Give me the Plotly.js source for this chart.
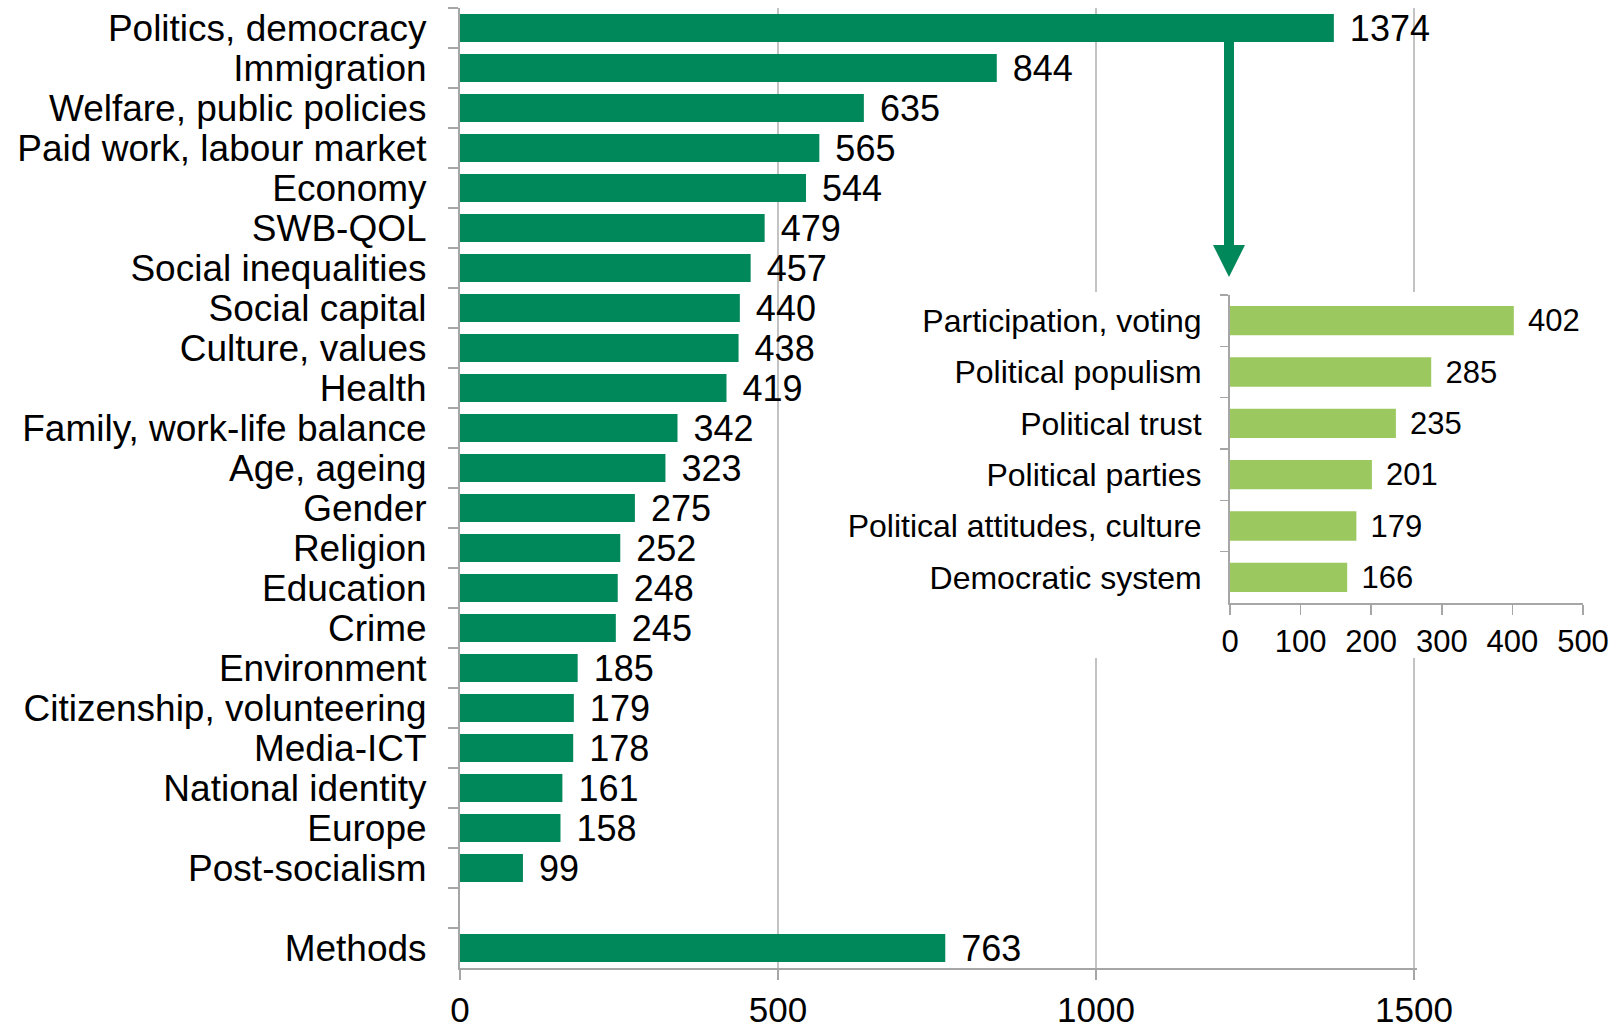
<!DOCTYPE html>
<html>
<head>
<meta charset="utf-8">
<script src="https://cdn.plot.ly/plotly-3.0.1.min.js"></script>
<style>html,body{margin:0;padding:0;background:#fff;}#chart{width:1619px;height:1028px;}</style>
</head>
<body>
<div id="chart"></div>
<script>
// Main chart data (top to bottom)
const mainCategories = [
  "Politics, democracy", "Immigration", "Welfare, public policies", "Paid work, labour market",
  "Economy", "SWB-QOL", "Social inequalities", "Social capital", "Culture, values", "Health",
  "Family, work-life balance", "Age, ageing", "Gender", "Religion", "Education", "Crime",
  "Environment", "Citizenship, volunteering", "Media-ICT", "National identity", "Europe",
  "Post-socialism", " ", "Methods"
];
const mainValues = [
  1374, 844, 635, 565, 544, 479, 457, 440, 438, 419,
  342, 323, 275, 252, 248, 245, 185, 179, 178, 161, 158,
  99, null, 763
];
const mainTicks = [0, 500, 1000, 1500];

// Inset data (breakdown of "Politics, democracy")
const insetCategories = [
  "Participation, voting", "Political populism", "Political trust",
  "Political parties", "Political attitudes, culture", "Democratic system"
];
const insetValues = [402, 285, 235, 201, 179, 166];
const insetTicks = [0, 100, 200, 300, 400, 500];

const W = 1619, H = 1028;
const px = v => v / W;
const py = v => 1 - v / H;

const FONT = "Liberation Sans, Arial, sans-serif";
const DARK = "#00875a";
const LIGHT = "#9cc95f";
const AXIS = "#a6a6a6";
const GRID = "#c3c3c3";
const GAP = "\u00a0\u200a";

const traces = [
  {
    type: "bar", orientation: "h",
    y: mainCategories, x: mainValues,
    marker: {color: DARK, line: {width: 0}},
    width: 0.7,
    text: mainValues.map(v => v == null ? "" : GAP + v),
    textposition: "outside", constraintext: "none", cliponaxis: false,
    textfont: {family: FONT, size: 36, color: "#000"},
    hoverinfo: "none", xaxis: "x", yaxis: "y"
  },
  {
    type: "bar", orientation: "h",
    y: insetCategories, x: insetValues,
    marker: {color: LIGHT, line: {width: 0}},
    width: 0.57,
    text: insetValues.map(v => GAP + v),
    textposition: "outside", constraintext: "none", cliponaxis: false,
    textfont: {family: FONT, size: 31, color: "#000"},
    hoverinfo: "none", xaxis: "x2", yaxis: "y2"
  }
];

const layout = {
  width: W, height: H,
  margin: {l: 0, r: 0, t: 0, b: 0},
  paper_bgcolor: "#fff", plot_bgcolor: "rgba(0,0,0,0)",
  showlegend: false,
  font: {family: FONT, color: "#000"},
  xaxis: {
    domain: [px(460), px(460 + 954 * 1504 / 1500)],
    range: [0, 1504], tickmode: "array", tickvals: mainTicks, ticktext: mainTicks.map(String),
    showgrid: true, gridcolor: GRID, gridwidth: 1.5,
    showline: true, linecolor: AXIS, linewidth: 2,
    ticks: "outside", ticklen: 10, tickcolor: AXIS, tickwidth: 1.5,
    tickfont: {family: FONT, size: 35, color: "#000"},
    ticklabelstandoff: 0,
    zeroline: false, automargin: false, fixedrange: true, anchor: "y"
  },
  yaxis: {
    domain: [py(968), py(8)],
    type: "category", categoryorder: "array", categoryarray: mainCategories,
    range: [mainCategories.length - 0.5, -0.5],
    tickmode: "linear", tick0: 0, dtick: 1,
    showline: true, linecolor: AXIS, linewidth: 2,
    ticks: "outside", tickson: "boundaries", ticklen: 10, tickcolor: AXIS, tickwidth: 1.5,
    tickfont: {family: FONT, size: 37, color: "#000"},
    ticklabelstandoff: 24,
    showgrid: false, zeroline: false, automargin: false, fixedrange: true, anchor: "x"
  },
  xaxis2: {
    domain: [px(1230), px(1583)],
    range: [0, 500], tickmode: "array", tickvals: insetTicks, ticktext: insetTicks.map(String),
    showgrid: false,
    showline: true, linecolor: AXIS, linewidth: 2,
    ticks: "outside", ticklen: 10, tickcolor: AXIS, tickwidth: 1.5,
    tickfont: {family: FONT, size: 31, color: "#000"},
    ticklabelstandoff: 0,
    zeroline: false, automargin: false, fixedrange: true, anchor: "y2"
  },
  yaxis2: {
    domain: [py(603), py(295)],
    type: "category", categoryorder: "array", categoryarray: insetCategories,
    range: [insetCategories.length - 0.5, -0.5],
    tickmode: "linear", tick0: 0, dtick: 1,
    showline: true, linecolor: AXIS, linewidth: 2,
    ticks: "outside", tickson: "boundaries", ticklen: 8, tickcolor: AXIS, tickwidth: 1.5,
    tickfont: {family: FONT, size: 32, color: "#000"},
    ticklabelstandoff: 20,
    showgrid: false, zeroline: false, automargin: false, fixedrange: true, anchor: "x2"
  },
  shapes: [
    // white panel hiding main gridlines behind the inset
    {type: "rect", xref: "x", yref: "y", layer: "between",
     x0: 600, x1: 1700, y0: 6.6, y1: 15.75,
     fillcolor: "#fff", line: {width: 0}},
    {type: "rect", xref: "x2", yref: "y2", layer: "below",
     x0: -50, x1: 600, y0: -1, y1: 7,
     fillcolor: "#fff", line: {width: 0}},
    // arrow shaft
    {type: "line", xref: "paper", yref: "paper", layer: "above",
     x0: px(1229), x1: px(1229), y0: py(42), y1: py(247),
     line: {color: DARK, width: 10}},
    // arrow head
    {type: "path", xref: "paper", yref: "paper", layer: "above",
     path: `M ${px(1213)} ${py(245)} L ${px(1245)} ${py(245)} L ${px(1229)} ${py(277)} Z`,
     fillcolor: DARK, line: {width: 0}}
  ]
};

Plotly.newPlot("chart", traces, layout, {displayModeBar: false, staticPlot: true});
</script>
</body>
</html>
